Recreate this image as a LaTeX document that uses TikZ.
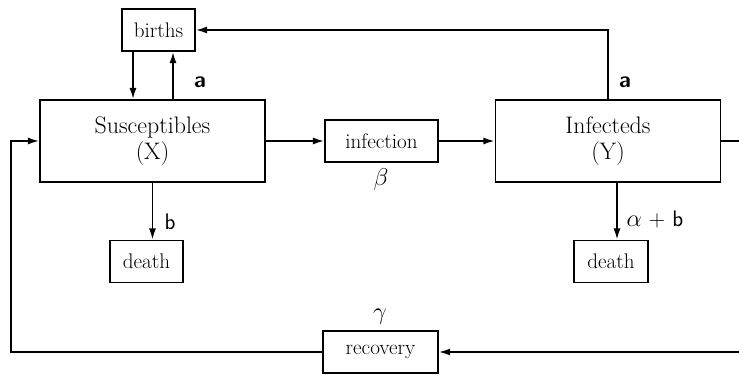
\documentclass[tikz,border=0pt]{standalone}
\usetikzlibrary{arrows.meta}
\tikzset{
  popbox/.style={draw,align=center,inner sep=0pt,minimum width=5.625cm,minimum height=2.05cm,font=\fontsize{17}{19}\selectfont},
  ratebox/.style={draw,inner sep=0pt,minimum height=1.05cm,font=\fontsize{15}{18}\selectfont},
  ratelabel/.style={font=\fontsize{16}{18}\selectfont\sffamily},
}
\begin{document}
\begin{tikzpicture}[x=0.025cm,y=-0.025cm,line width=1.2pt,>={Latex[length=8pt,width=5pt]}]
\useasboundingbox (0,0) rectangle (739,375);

\node[popbox] (sus) at (152.5,141) {Susceptibles\\(X)};
\node[popbox] (inf) at (608,141) {Infecteds\\(Y)};

\node[ratebox,minimum width=1.825cm] (births) at (158.5,30) {births};
\node[ratebox,minimum width=2.825cm] (infection) at (381.5,141) {infection};
\node[ratebox,minimum width=1.825cm] (deathS) at (146.5,261.5) {death};
\node[ratebox,minimum width=1.85cm] (deathI) at (611,261.5) {death};
\node[ratebox,minimum width=2.875cm] (recovery) at (380.5,352) {recovery};

% births loop
\draw[->] (133,0 |- births.south) -- (133,0 |- sus.north);
\draw[->] (173,0 |- sus.north) -- (173,0 |- births.south);
\node[ratelabel,font=\fontsize{16}{18}\selectfont\sffamily\bfseries] (aS) at (200,82) {a};

% infection
\draw[->] (sus.east) -- (infection.west);
\draw[->] (infection.east) -- (inf.west);
\node[font=\fontsize{17}{18}\selectfont] (beta) at (381,179) {$\beta$};

% births from infecteds
\draw[->] (inf.north) |- (births.east);
\node[ratelabel,font=\fontsize{16}{18}\selectfont\sffamily\bfseries] (aI) at (625,82) {a};

% deaths
\draw[->] (sus.south) -- (sus.south |- deathS.north);
\node[ratelabel] (b) at (170,222) {b};
\draw[->] (617,0 |- inf.south) -- (617,0 |- deathI.north);
\node[ratelabel] (ab) at (655,219) {$\alpha$ + b};

% recovery
\draw (inf.east) -- (739,0 |- inf.east);
\draw[->] (739,0 |- recovery.east) -- (recovery.east);
\draw[->] (recovery.west) -| (11,0 |- sus.west) -- (sus.west);
\node[font=\fontsize{17}{18}\selectfont] (gamma) at (380,317) {$\gamma$};
\end{tikzpicture}
\end{document}
